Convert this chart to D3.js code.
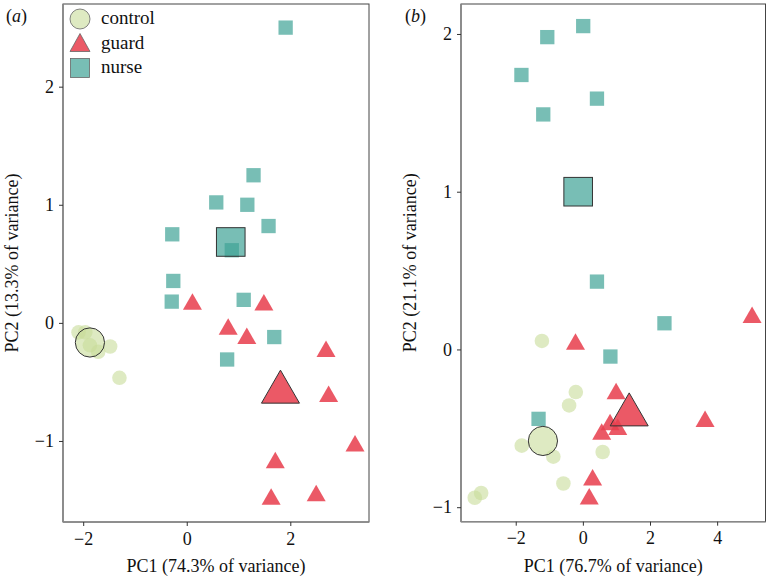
<!DOCTYPE html>
<html>
<head>
<meta charset="utf-8">
<script src="https://cdn.jsdelivr.net/npm/d3@7"></script>
<style>
  body { margin: 0; background: #fff; }
  svg text { font-family: "Liberation Serif", "Times New Roman", "DejaVu Serif", serif; }
</style>
</head>
<body>
<svg width="767" height="578"></svg>
<script>
// --- Data ---
const groups = ["control", "guard", "nurse"];

// panel (a)
const aControl = [[-2.09,-0.08],[-1.96,-0.08],[-1.87,-0.19],[-1.71,-0.245],[-1.48,-0.20],[-1.30,-0.465]];
const aGuard = [[0.11,0.18],[1.49,0.175],[0.80,-0.03],[1.16,-0.11],[2.69,-0.22],[2.74,-0.60],
                [3.25,-1.02],[1.71,-1.16],[1.63,-1.47],[2.50,-1.44]];
const aNurse = [[1.91,2.50],[1.29,1.25],[0.57,1.02],[1.17,1.00],[1.58,0.82],[-0.28,0.75],
                [0.87,0.615],[-0.26,0.355],[-0.29,0.18],[1.10,0.195],[1.69,-0.12],[0.78,-0.31]];
const aCentroids = [[-1.87,-0.166],[1.81,-0.54],[0.85,0.685]];

// panel (b)
const bControl = [[-1.22,0.054],[-0.21,-0.27],[-0.41,-0.355],[-1.82,-0.61],[-0.88,-0.68],
                  [-0.58,-0.85],[0.59,-0.65],[-3.03,-0.91],[-3.22,-0.94]];
const bGuard = [[5.04,0.22],[-0.22,0.05],[0.99,-0.263],[0.81,-0.46],[1.04,-0.49],[0.56,-0.52],
                [3.64,-0.44],[0.29,-0.81],[0.19,-0.93]];
const bNurse = [[0.01,2.05],[-1.06,1.98],[-1.83,1.74],[-1.18,1.49],[0.42,1.59],
                [0.42,0.43],[0.82,-0.045],[-1.32,-0.44],[2.43,0.166]];
const bCentroids = [[-1.19,-0.58],[1.38,-0.38],[-0.14,1.00]];

const aXTicks = [-2, 0, 2], aYTicks = [-1, 0, 1, 2];
const bXTicks = [-2, 0, 2, 4], bYTicks = [-1, 0, 1, 2];

const colors = { control: "#c8dc9a", guard: "#e8404f", nurse: "#3fa395" };
const alphas = { control: 0.6, guard: 0.87, nurse: 0.7 };

const svg = d3.select("svg");

// --- Marker helper ---
function marker(g, group, x, y, big) {
  const s = big ? 2 : 1;
  let el;
  if (group === "control") {
    el = g.append("circle").attr("cx", x).attr("cy", y).attr("r", 7.3 * s);
  } else if (group === "guard") {
    const w = 19 * s, h = 16.5 * s;
    el = g.append("path")
      .attr("d", `M${x},${y - h / 2}L${x + w / 2},${y + h / 2}L${x - w / 2},${y + h / 2}Z`);
  } else {
    const a = 14.3 * s;
    el = g.append("rect").attr("x", x - a / 2).attr("y", y - a / 2).attr("width", a).attr("height", a);
  }
  el.attr("fill", colors[group]).attr("fill-opacity", alphas[group]);
  if (big) el.attr("stroke", "#333").attr("stroke-width", 1);
  return el;
}

// --- Panel drawing ---
function panel(opt) {
  const g = svg.append("g");
  const x = d3.scaleLinear().domain(opt.xDom).range([opt.left, opt.right]);
  const y = d3.scaleLinear().domain(opt.yDom).range([opt.bottom, opt.top]);

  g.append("rect")
    .attr("x", opt.left).attr("y", opt.top)
    .attr("width", opt.right - opt.left).attr("height", opt.bottom - opt.top)
    .attr("fill", "none").attr("stroke", "#444").attr("stroke-width", 1);

  const fmt = d => d < 0 ? "\u2212" + Math.abs(d) : d;
  const xAxis = g.append("g").attr("transform", `translate(0,${opt.bottom})`)
    .call(d3.axisBottom(x).tickValues(opt.xTicks).tickFormat(fmt).tickSize(4).tickPadding(6));
  const yAxis = g.append("g").attr("transform", `translate(${opt.left},0)`)
    .call(d3.axisLeft(y).tickValues(opt.yTicks).tickFormat(fmt).tickSize(4).tickPadding(5));
  [xAxis, yAxis].forEach(ax => {
    ax.attr("font-family", null);
    ax.select(".domain").attr("stroke", "#888").attr("stroke-width", 1.6);
    ax.selectAll(".tick line").attr("stroke", "#333");
    ax.selectAll("text").attr("font-size", 18).attr("fill", "#111");
  });
  xAxis.select(".domain").attr("d", `M${opt.left},0H${opt.right}`);
  yAxis.select(".domain").attr("d", `M0,${opt.top}V${opt.bottom}`);

  // titles
  g.append("text")
    .attr("x", (opt.left + opt.right) / 2).attr("y", 572)
    .attr("text-anchor", "middle").attr("font-size", 18).attr("fill", "#111")
    .text(opt.xTitle);
  g.append("text")
    .attr("transform", `translate(${opt.yTitleX},${(opt.top + opt.bottom) / 2}) rotate(-90)`)
    .attr("text-anchor", "middle").attr("font-size", 18).attr("fill", "#111")
    .text(opt.yTitle);
  const lab = g.append("text").attr("x", opt.labelX).attr("y", 22).attr("font-size", 18).attr("fill", "#111");
  lab.append("tspan").text("(");
  lab.append("tspan").attr("font-style", "italic").text(opt.label);
  lab.append("tspan").text(")");

  // points
  const pts = g.append("g");
  opt.control.forEach(d => marker(pts, "control", x(d[0]), y(d[1]), false));
  opt.nurse.forEach(d => marker(pts, "nurse", x(d[0]), y(d[1]), false));
  opt.guard.forEach(d => marker(pts, "guard", x(d[0]), y(d[1]), false));
  groups.forEach((grp, i) => marker(pts, grp, x(opt.centroids[i][0]), y(opt.centroids[i][1]), true));
  return g;
}

panel({
  left: 63, right: 369, top: 4, bottom: 522,
  xDom: [-2.39, 3.52], yDom: [-1.686, 2.70],
  xTicks: aXTicks, yTicks: aYTicks,
  xTitle: "PC1 (74.3% of variance)", yTitle: "PC2 (13.3% of variance)", yTitleX: 18,
  label: "a", labelX: 6,
  control: aControl, guard: aGuard, nurse: aNurse, centroids: aCentroids
});

panel({
  left: 461, right: 765.5, top: 4, bottom: 521.7,
  xDom: [-3.63, 5.44], yDom: [-1.092, 2.19],
  xTicks: bXTicks, yTicks: bYTicks,
  xTitle: "PC1 (76.7% of variance)", yTitle: "PC2 (21.1% of variance)", yTitleX: 416,
  label: "b", labelX: 405,
  control: bControl, guard: bGuard, nurse: bNurse, centroids: bCentroids
});

// --- Legend (panel a) ---
const leg = svg.append("g");
groups.forEach((grp, i) => {
  const cy = 19 + i * 24.5;
  const m = marker(leg, grp, 80, cy, false);
  if (grp === "control") m.attr("r", 10);
  if (grp === "guard") m.attr("d", `M80,${cy - 10}L90,${cy + 8}L70,${cy + 8}Z`);
  if (grp === "nurse") m.attr("x", 70.5).attr("y", cy - 9.5).attr("width", 19).attr("height", 19);
  m.attr("stroke", "#666").attr("stroke-width", 0.8);
  leg.append("text").attr("x", 101).attr("y", cy + 5)
    .attr("font-size", 19).attr("fill", "#111").text(grp);
});
</script>
</body>
</html>
